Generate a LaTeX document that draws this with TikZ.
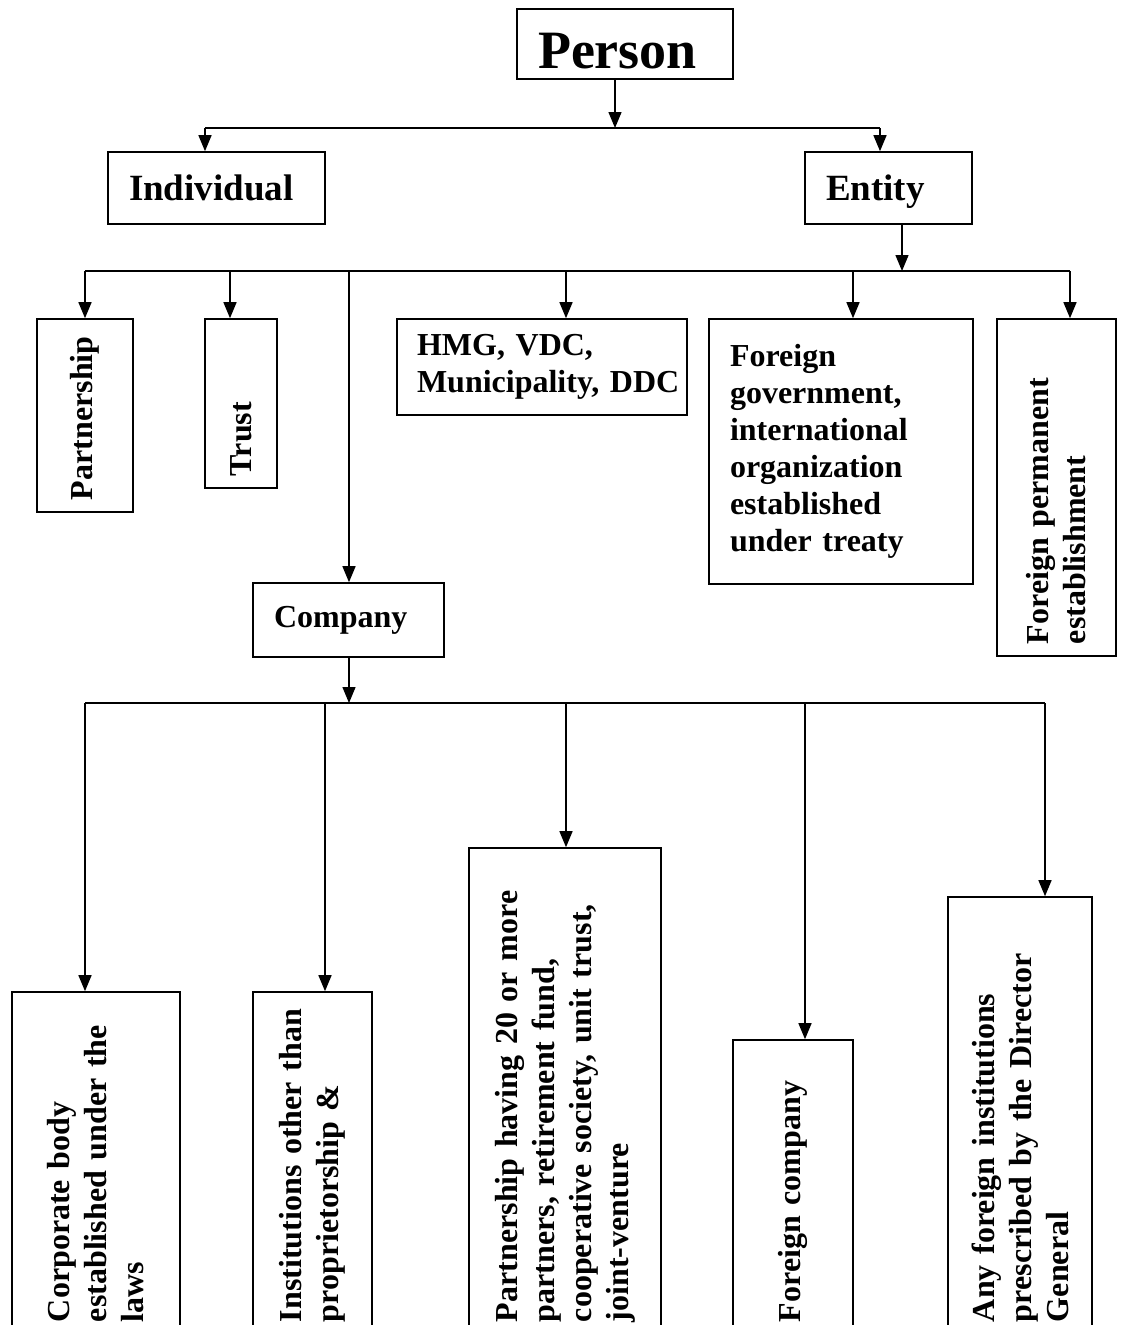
\documentclass[tikz,border=0pt]{standalone}
\usepackage{fontspec}
\setmainfont{Liberation Serif}
\usetikzlibrary{arrows.meta}
\definecolor{ColLine}{RGB}{0,0,0}
\tikzstyle{BoxTree}=[draw=ColLine,line width=1.6pt,inner xsep=21pt,inner ysep=0pt,align=left,
font=\bfseries\fontsize{32}{37}\selectfont]
\tikzstyle{BoxSide}=[BoxTree,rotate=90,inner xsep=12pt]
\tikzstyle{EdgeTree}=[ColLine,line width=1.4pt]
\tikzstyle{ArrowTree}=[EdgeTree,-{Triangle[length=16pt,width=13pt]}]

\begin{document}
\frenchspacing
\begin{tikzpicture}[x=1pt,y=-1pt]
        \useasboundingbox(0,0)rectangle(1123,1325);
        \clip(0,0)rectangle(1123,1325);
        % top levels
        \node[BoxTree,font=\bfseries\fontsize{54}{60}\selectfont,text width=174pt,minimum height=70pt,
        text height=48pt,text depth=0pt](person)at(625,44){Person};
        \node[BoxTree,font=\bfseries\fontsize{37}{42}\selectfont,text width=175pt,minimum height=72pt,
        text height=25pt,text depth=0pt](ind)at(216.5,188){Individual};
        \node[BoxTree,font=\bfseries\fontsize{37}{42}\selectfont,text width=125pt,minimum height=72pt,
        text height=25pt,text depth=0pt](ent)at(888.5,188){Entity};
        % kinds of entity
        \node[BoxSide,text width=169pt,minimum height=96pt](part)at(85,415.5){Partnership};
        \node[BoxSide,text width=145pt,minimum height=72pt](trust)at(241,403.5){Trust};
        \node[BoxTree,inner xsep=20pt,text width=250pt,minimum height=96pt](hmg)at(542,367){HMG, VDC,\\Municipality,~DDC};
        \node[BoxTree,text width=222pt,minimum height=265pt](fgov)at(841,451.5){Foreign\\government,\\international\\organization\\established\\under treaty};
        \node[BoxSide,text width=313pt,minimum height=119pt](fpe)at(1056.5,487.5){Foreign permanent\\establishment};
        \node[BoxTree,text width=149pt,minimum height=74pt](comp)at(348.5,620){Company};
        % kinds of company
        \node[BoxSide,text width=318pt,minimum height=168pt](corp)at(96,1163){Corporate body\\established under the\\laws};
        \node[BoxSide,text width=318pt,minimum height=119pt](inst)at(312.5,1163){Institutions other than\\proprietorship \&};
        \node[BoxSide,text width=462pt,minimum height=192pt](phav)at(565,1091){Partnership having 20 or more\\partners, retirement fund,\\cooperative society, unit trust,\\joint-venture};
        \node[BoxSide,text width=270pt,minimum height=120pt](fcomp)at(793,1187){Foreign company};
        \node[BoxSide,text width=413pt,minimum height=144pt](anyf)at(1020,1115.5){Any foreign institutions\\prescribed by the Director\\General};
        % first bus
        \coordinate(bus1)at(615,128);
        \coordinate(b1a)at(205,128);
        \coordinate(b1b)at(880,128);
        \draw[ArrowTree](bus1 |- person.south)--(bus1);
        \draw[EdgeTree](b1a)--(b1b);
        \draw[ArrowTree](b1a)--(b1a |- ind.north);
        \draw[ArrowTree](b1b)--(b1b |- ent.north);
        % second bus
        \coordinate(bus2)at(902,271);
        \coordinate(b2a)at(85,271);
        \coordinate(b2b)at(230,271);
        \coordinate(b2c)at(349,271);
        \coordinate(b2d)at(566,271);
        \coordinate(b2e)at(853,271);
        \coordinate(b2f)at(1070,271);
        \draw[ArrowTree](bus2 |- ent.south)--(bus2);
        \draw[EdgeTree](b2a)--(b2f);
        \draw[ArrowTree](b2a)--(b2a |- part.east);
        \draw[ArrowTree](b2b)--(b2b |- trust.east);
        \draw[ArrowTree](b2c)--(b2c |- comp.north);
        \draw[ArrowTree](b2d)--(b2d |- hmg.north);
        \draw[ArrowTree](b2e)--(b2e |- fgov.north);
        \draw[ArrowTree](b2f)--(b2f |- fpe.east);
        % third bus
        \coordinate(bus3)at(349,703);
        \coordinate(b3a)at(85,703);
        \coordinate(b3b)at(325,703);
        \coordinate(b3c)at(566,703);
        \coordinate(b3d)at(805,703);
        \coordinate(b3e)at(1045,703);
        \draw[ArrowTree](bus3 |- comp.south)--(bus3);
        \draw[EdgeTree](b3a)--(b3e);
        \draw[ArrowTree](b3a)--(b3a |- corp.east);
        \draw[ArrowTree](b3b)--(b3b |- inst.east);
        \draw[ArrowTree](b3c)--(b3c |- phav.east);
        \draw[ArrowTree](b3d)--(b3d |- fcomp.east);
        \draw[ArrowTree](b3e)--(b3e |- anyf.east);
    \end{tikzpicture}
\end{document}
